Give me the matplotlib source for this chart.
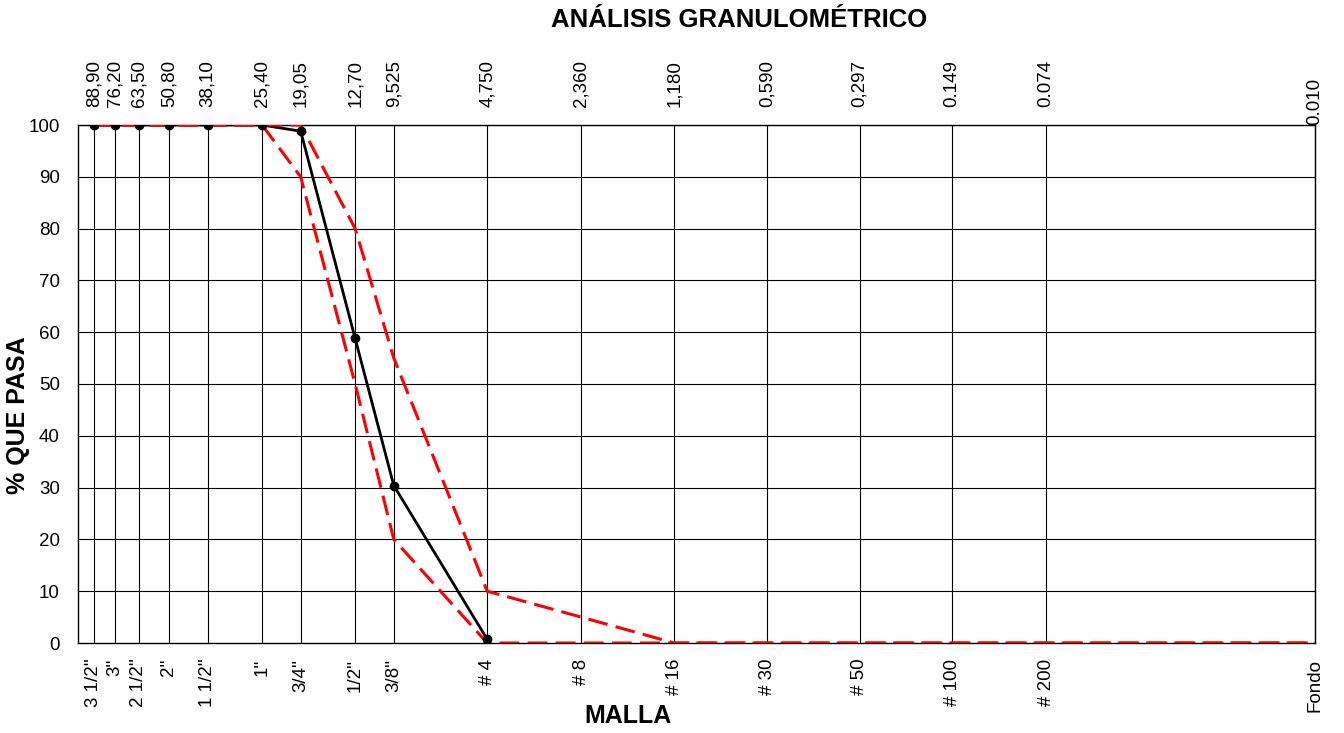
import numpy as np
import matplotlib
matplotlib.use("Agg")
import matplotlib.pyplot as plt
import matplotlib.transforms as mtransforms

plt.rcParams['font.family'] = ['Liberation Sans', 'DejaVu Sans']

# Sieve openings (mm) and names
sizes = [88.90, 76.20, 63.50, 50.80, 38.10, 25.40, 19.05, 12.70, 9.525,
         4.750, 2.360, 1.180, 0.590, 0.297, 0.149, 0.074, 0.010]
size_labels = ["88,90", "76,20", "63,50", "50,80", "38,10", "25,40", "19,05",
               "12,70", "9,525", "4,750", "2,360", "1,180", "0,590", "0,297",
               "0.149", "0.074", "0.010"]
mesh_labels = ["3 1/2''", "3''", "2 1/2''", "2''", "1 1/2''", "1''", "3/4''",
               "1/2''", "3/8''", "# 4", "# 8", "# 16", "# 30", "# 50",
               "# 100", "# 200", "Fondo"]

# Gradation of the sample (% passing), up to # 4
sample_sizes = [88.90, 76.20, 63.50, 50.80, 38.10, 25.40, 19.05, 12.70, 9.525, 4.750]
sample_pass = [100, 100, 100, 100, 100, 100, 98.8, 58.8, 30.4, 0.7]

# Specification limits
upper_pass = [100, 100, 100, 100, 100, 100, 100, 80, 55, 10, 5, 0, 0, 0, 0, 0, 0]
lower_pass = [100, 100, 100, 100, 100, 100, 90, 50, 20, 0, 0, 0, 0, 0, 0, 0, 0]

fig = plt.figure(figsize=(13.44, 7.33), dpi=100)
ax = fig.add_axes([78 / 1344, 1 - 643 / 733, (1315 - 78) / 1344, (643 - 125) / 733])

ax.set_xscale("log")
ax.set_xlim(100, 0.01)
ax.set_ylim(0, 100)

# grid
for s in sizes:
    ax.axvline(s, color="black", lw=0.8, zorder=1)
for v in range(10, 101, 10):
    ax.axhline(v, color="black", lw=0.8, zorder=1)

ax.plot(sample_sizes, sample_pass, color="black", lw=2.0, zorder=2)
ax.plot(sizes, upper_pass, color="#ff0000", lw=2.2, dashes=(6.5, 2.7), zorder=3)
ax.plot(sizes, lower_pass, color="#ff0000", lw=2.2, dashes=(6.5, 2.7), zorder=3)
ax.plot(sample_sizes, sample_pass, "o", color="black", ms=6, zorder=4)

ax.set_yticks(range(0, 101, 10))
ax.tick_params(axis="y", length=0, labelsize=13.5, pad=13)
ax.set_xticks([])
ax.xaxis.set_minor_locator(matplotlib.ticker.NullLocator())
for sp in ax.spines.values():
    sp.set_color("black")
    sp.set_linewidth(1.0)

trans = mtransforms.blended_transform_factory(ax.transData, ax.transAxes)
for i, (s, lab) in enumerate(zip(sizes, size_labels)):
    off = 0.0 if i == len(sizes) - 1 else 0.035
    ax.text(s, 1.0 + off, lab, transform=trans, rotation=90, ha="center",
            va="bottom", fontsize=13.5)
for s, lab in zip(sizes, mesh_labels):
    ax.text(s, -0.03, lab, transform=trans, rotation=90, ha="center",
            va="top", fontsize=13.5)

fig.text(739 / 1344, 1 - 20 / 733, "ANÁLISIS GRANULOMÉTRICO", ha="center",
         va="center", fontsize=18.5, fontweight="bold")
fig.text(628 / 1344, 1 - 716 / 733, "MALLA", ha="center", va="center",
         fontsize=18, fontweight="bold")
fig.text(18 / 1344, 1 - 415 / 733, "% QUE PASA", ha="center", va="center",
         rotation=90, fontsize=18, fontweight="bold")

fig.savefig("out.png", dpi=100)
